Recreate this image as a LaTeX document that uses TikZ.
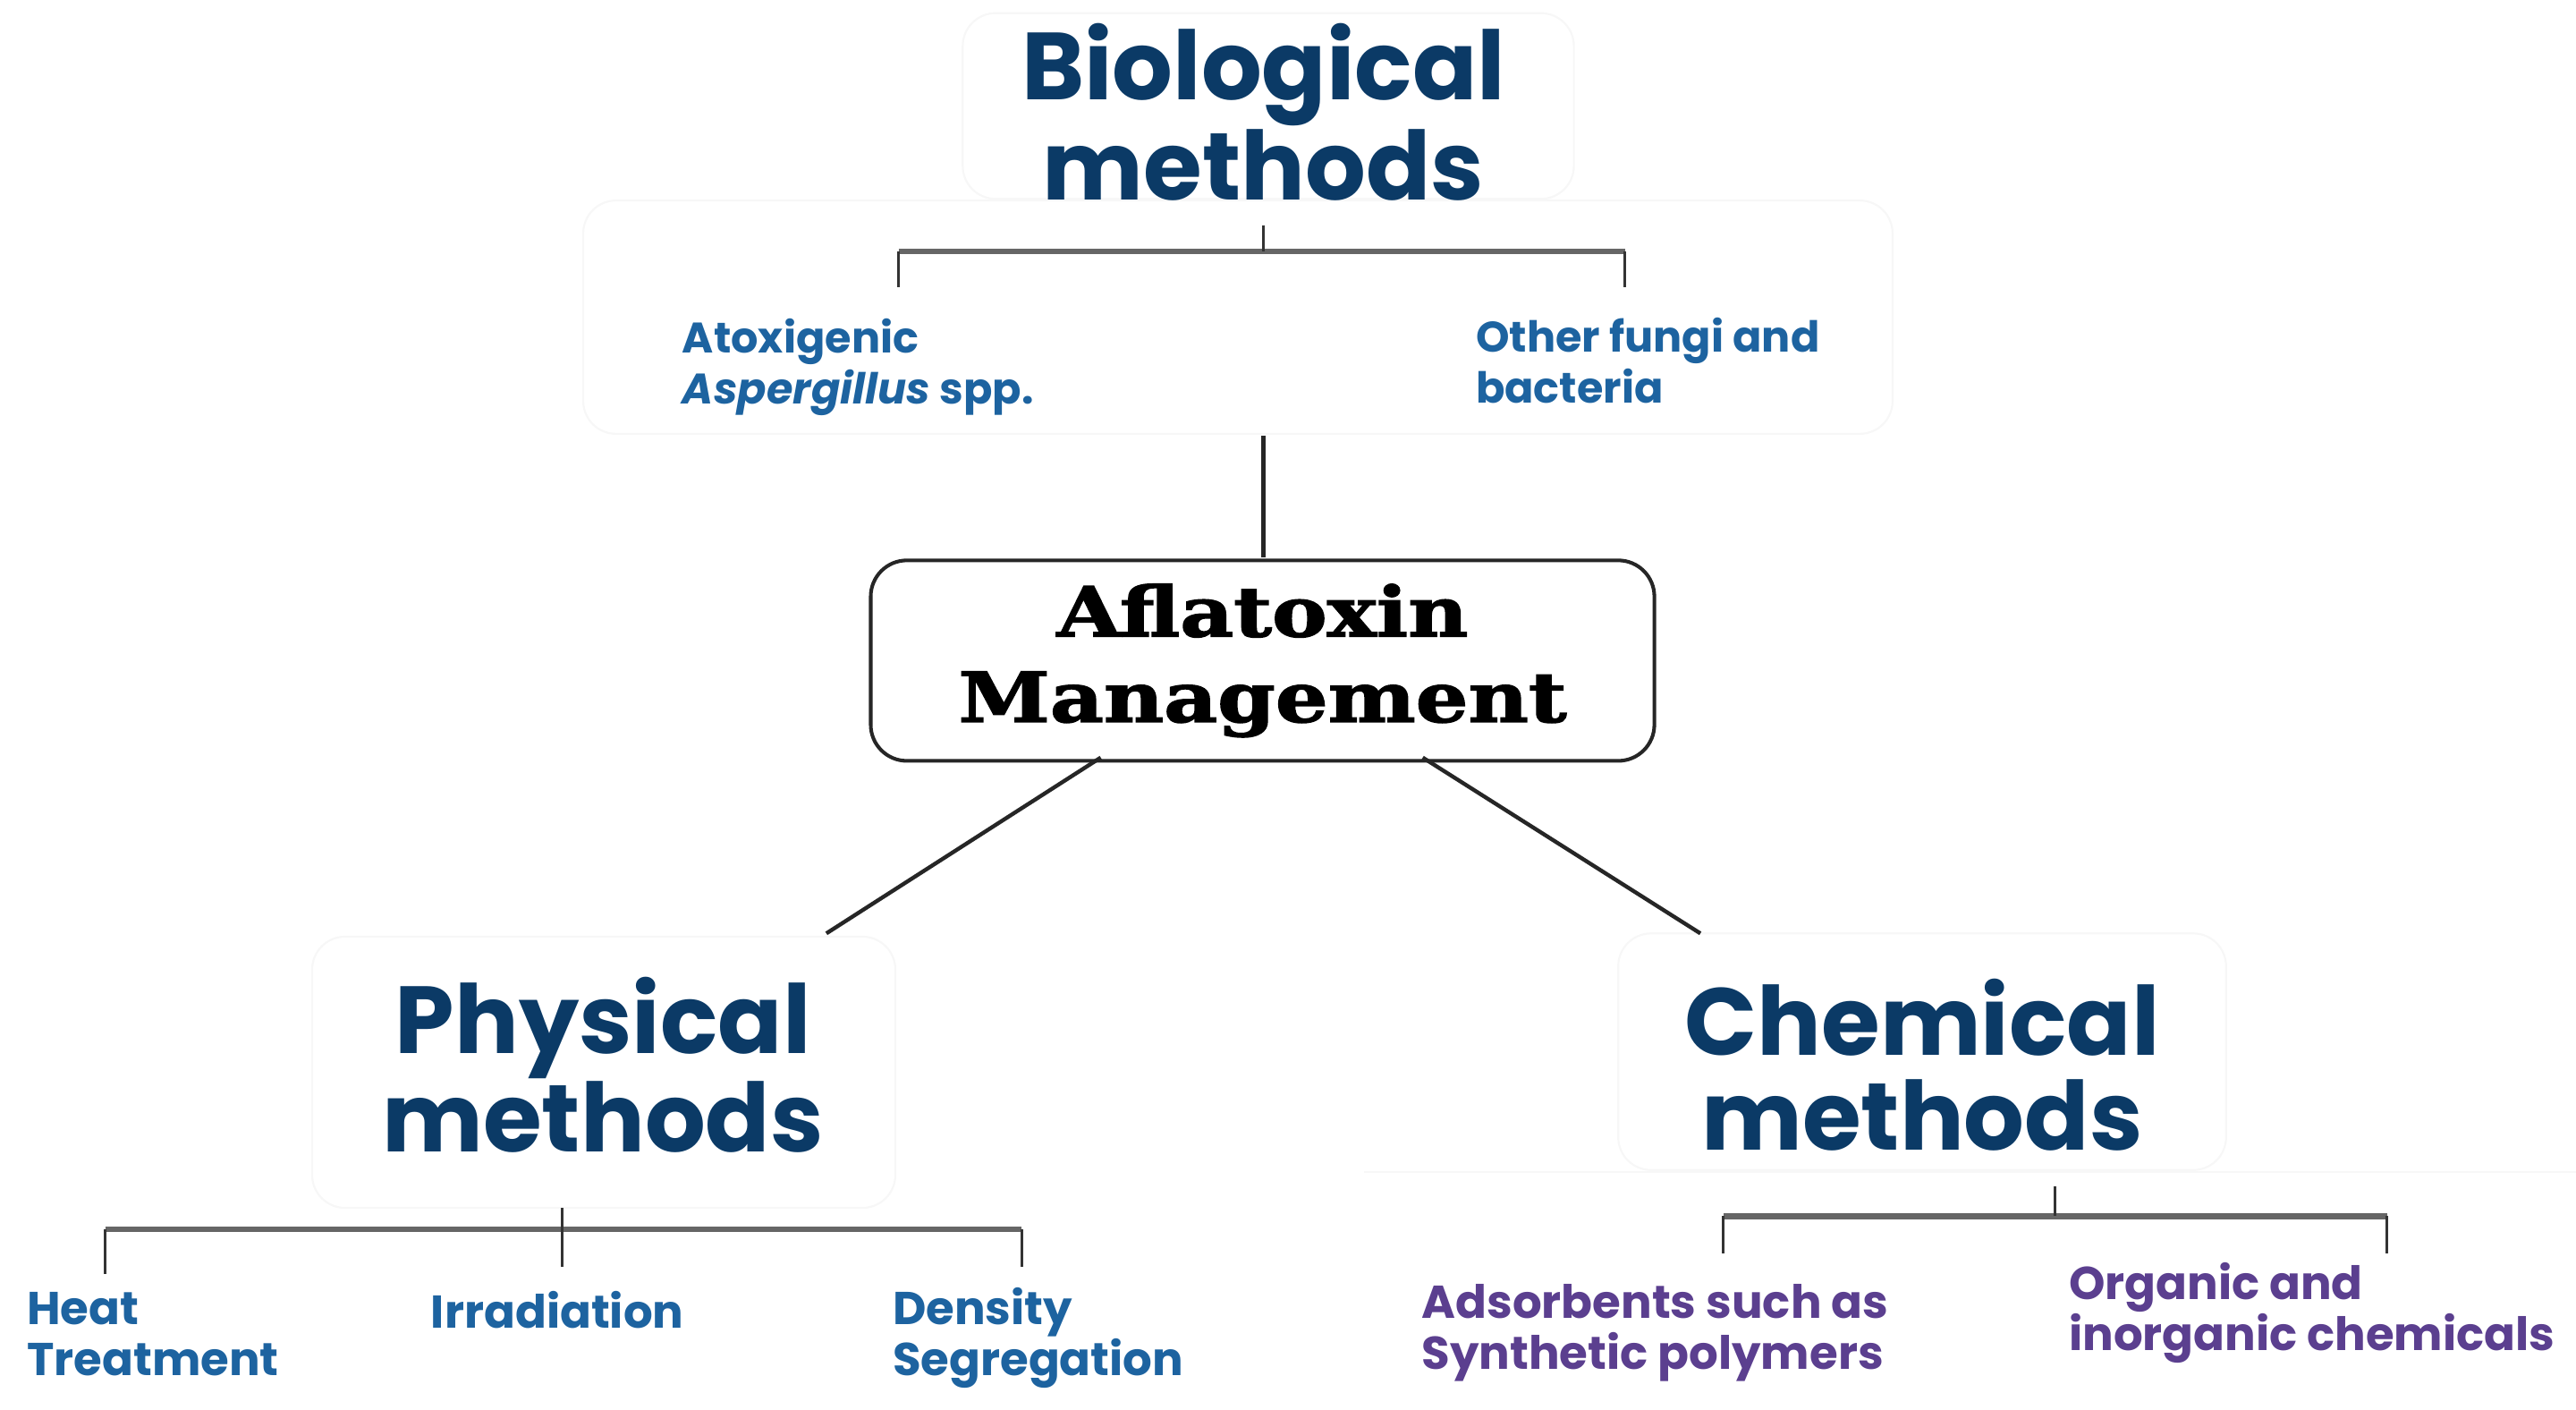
\documentclass[tikz,border=0pt]{standalone}
\usepackage{fontspec}
\setmainfont{Poppins}
\newfontfamily\slab{DejaVu Serif}[FakeStretch=1.2,FakeBold=2]
\definecolor{navy}{HTML}{0B3A66}
\definecolor{midblue}{HTML}{1D63A0}
\definecolor{purp}{HTML}{5B3F8F}
\begin{document}
\begin{tikzpicture}[x=0.5pt,y=-0.5pt,
  head/.style={text=navy, font=\fontsize{29}{29}\selectfont\bfseries, align=center, inner sep=0pt},
  lab/.style={text=midblue, font=\fontsize{14}{15.5}\selectfont\bfseries, align=left, inner sep=0pt, anchor=base west},
  tlab/.style={lab, font=\fontsize{13}{15.5}\selectfont\bfseries},
  plab/.style={lab, text=purp},
  conn/.style={line width=1.2pt, black!85},
  barh/.style={line width=1.8pt, black!60},
  barv/.style={line width=0.9pt, black!80},
  faint/.style={draw=black!3, line width=0.6pt, rounded corners=10pt},
  mainbox/.style={draw=black!85, line width=1.1pt, rounded corners=11pt, fill=white,
    minimum width=238.5pt, minimum height=61pt, inner sep=0pt, align=center,
    font=\slab\bfseries\fontsize{21}{26}\selectfont}
]
\useasboundingbox (0,0) rectangle (1568,858);
% faint background panels
\draw[faint] (586,8) rectangle (958,121);
\draw[faint] (355,122) rectangle (1152,264);
\draw[faint] (190,570) rectangle (545,735);
\draw[faint] (985,568) rectangle (1355,712);
\draw[faint, rounded corners=0pt] (830,713) -- (1568,713);

% main box
\node[mainbox] (afl) at (768.5,402) {Aflatoxin\\Management};

% headings
\node[head] (bio) at (769,68) {Biological\\methods};
\node[head] (phys) at (367,648) {Physical\\methods};
\node[head] (chem) at (1170,648) {Chemical\\methods};

% biological labels (anchor on last line baseline)
\node[tlab] (atox) at (415,246) {Atoxigenic\\\textit{Aspergillus} spp.};
\node[tlab] (other) at (898,245) {Other fungi and\\bacteria};

% physical labels
\node[lab] (heat) at (16,837) {Heat\\Treatment};
\node[lab] (irr) at (262,808) {Irradiation};
\node[lab] (dens) at (543,837) {Density\\Segregation};

% chemical labels
\node[plab] (ads) at (865,833) {Adsorbents such as\\Synthetic polymers};
\node[plab] (org) at (1259,822) {Organic and\\inorganic chemicals};

% coordinates for connectors
\coordinate (bT) at (769,137);
\coordinate (bM) at (769,153);
\coordinate (bL) at (547,153);
\coordinate (bR) at (989,153);
\coordinate (bLd) at (547,175);
\coordinate (bRd) at (989,175);
\coordinate (bioGrp) at (769,265);
\coordinate (aflN) at (769,339);
\coordinate (aflSL) at (670,461);
\coordinate (aflSR) at (866,461);
\coordinate (physN) at (503,568);
\coordinate (chemN) at (1035,568);

\coordinate (pT) at (342,735);
\coordinate (pM) at (342,748);
\coordinate (pL) at (64,748);
\coordinate (pR) at (622,748);
\coordinate (pLd) at (64,775);
\coordinate (pMd) at (342,771);
\coordinate (pRd) at (622,771);

\coordinate (cT) at (1251,722);
\coordinate (cM) at (1251,740);
\coordinate (cL) at (1049,740);
\coordinate (cR) at (1453,740);
\coordinate (cLd) at (1049,763);
\coordinate (cRd) at (1453,763);

% biological bracket
\draw[barh] (bL) -- (bR);
\draw[barv] (bT) -- (bM);
\draw[barv] (bL) -- (bLd);
\draw[barv] (bR) -- (bRd);
\draw[conn] (bioGrp) -- (aflN);

% diagonals
\draw[conn] (aflSL) -- (physN);
\draw[conn] (aflSR) -- (chemN);

% physical bracket
\draw[barh] (pL) -- (pR);
\draw[barv] (pT) -- (pMd);
\draw[barv] (pL) -- (pLd);
\draw[barv] (pR) -- (pRd);

% chemical bracket
\draw[barh] (cL) -- (cR);
\draw[barv] (cT) -- (cM);
\draw[barv] (cL) -- (cLd);
\draw[barv] (cR) -- (cRd);
\end{tikzpicture}
\end{document}
